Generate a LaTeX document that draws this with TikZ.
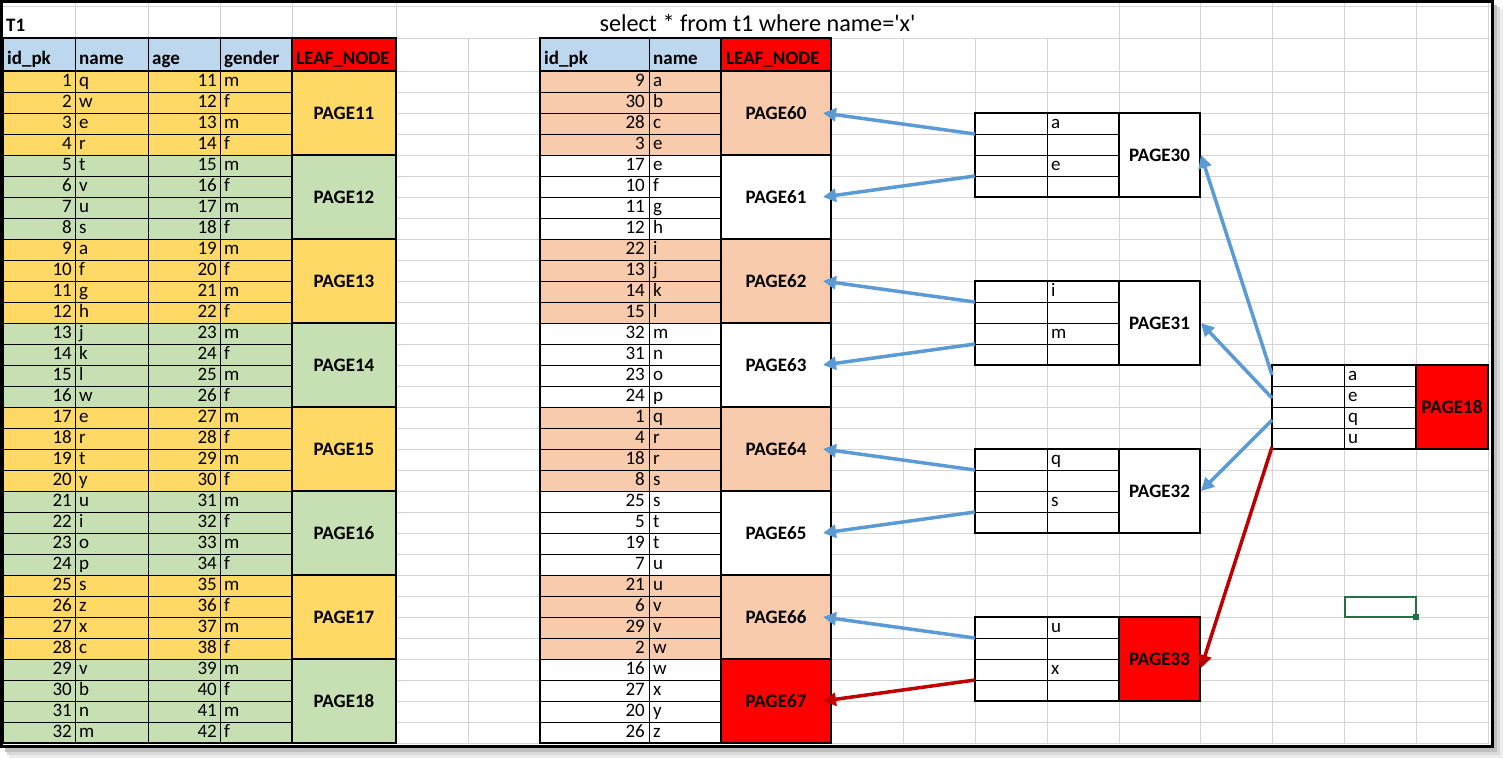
\documentclass[tikz,border=0pt]{standalone}
\usepackage{fontspec}
\setmainfont{Carlito}
\usetikzlibrary{arrows.meta,positioning,calc}
\definecolor{gridGray} {RGB}{212,212,212}
\definecolor{hdrBlue}  {RGB}{189,215,238}
\definecolor{rowYellow}{RGB}{255,217,102}
\definecolor{rowGreen} {RGB}{198,224,180}
\definecolor{rowPeach} {RGB}{248,203,173}
\definecolor{leafRed}  {RGB}{255,  0,  0}
\definecolor{arrBlue}  {RGB}{ 91,155,213}
\definecolor{arrRed}   {RGB}{192,  0,  0}
\definecolor{selGreen} {RGB}{ 33,115, 70}

\begin{document}
\begin{tikzpicture}[x=1pt,y=-1pt,
    font=\fontsize{19}{23}\selectfont,
    gridln/.style={gridGray,line width=0.8pt},
    cellln/.style={black,line width=1pt},
    boxln/.style={black,line width=2pt},
    numtxt/.style={anchor=base east,inner sep=0pt},
    keytxt/.style={anchor=base west,inner sep=0pt},
    hdrtxt/.style={anchor=base west,inner sep=0pt,
                   font=\fontsize{19}{23}\selectfont\bfseries},
    pagecell/.style={draw,line width=2pt,inner sep=0pt,minimum width=#1,
                     minimum height=84pt,font=\fontsize{19}{23}\selectfont\bfseries},
    bluearr/.style={-{Triangle[length=13pt,width=13pt]},arrBlue,line width=3.5pt},
    redarr/.style={-{Triangle[length=13pt,width=13pt]},arrRed,line width=3.5pt},
  ]
  \useasboundingbox (0,0) rectangle (1503,758);
  % window shadow
  \fill[white]   (0,0) rectangle (1503,758);
  \fill[gray!15] (9,9) rectangle (1503,758);
  \fill[gray!30] (7,7) rectangle (1500,755);
  \fill[gray!50] (5,5) rectangle (1497,752);
  \fill[white]   (0,0) rectangle (1494,748);

  % sheet grid
  \foreach \gx in {75,148,220,292,396,1119,1200,1272,1344,1416,1488}
    \draw[gridln] (\gx,3) -- (\gx,744);
  \foreach \gx in {468,540,649,721,831,903,975,1047}
    \draw[gridln] (\gx,38) -- (\gx,744);
  \draw[gridln] (3,6) -- (1490,6) (3,38) -- (1490,38);
  \foreach \k in {0,...,32}
    \draw[gridln] (3,71+21*\k) -- (1490,71+21*\k);

  % title row
  \node[hdrtxt] (t1) at (6,31) {T1};
  \node[anchor=base,inner sep=0pt,font=\fontsize{24.2}{28}\selectfont] (query)
    at (757.5,31) {select * from t1 where name=\textquotesingle x\textquotesingle};

  % T1 table
  \fill[hdrBlue] (3,38) rectangle (292,71);
  \fill[leafRed] (292,38) rectangle (396,71);
  \node[hdrtxt] (h11) at (7,64) {id\_pk};
  \node[hdrtxt] (h12) at (79,64) {name};
  \node[hdrtxt] (h13) at (152,64) {age};
  \node[hdrtxt] (h14) at (224,64) {gender};
  \node[hdrtxt] (h15) at (296,64) {LEAF\_NODE};
  \foreach \id/\nm [count=\k from 0] in {1/q,2/w,3/e,4/r,5/t,6/v,7/u,8/s,
      9/a,10/f,11/g,12/h,13/j,14/k,15/l,16/w,17/e,18/r,19/t,20/y,
      21/u,22/i,23/o,24/p,25/s,26/z,27/x,28/c,29/v,30/b,31/n,32/m}{
    \pgfmathtruncatemacro\rtop{71+21*\k}
    \pgfmathtruncatemacro\grp{mod(int(\k/4),2)}
    \pgfmathtruncatemacro\age{\id+10}
    \pgfmathtruncatemacro\rodd{mod(\k,2)}
    \ifnum\grp=0 \def\rowcol{rowYellow}\else\def\rowcol{rowGreen}\fi
    \ifnum\rodd=0 \def\gen{m}\else\def\gen{f}\fi
    \fill[\rowcol] (3,\rtop) rectangle (292,\rtop+21);
    \node[numtxt] (a\k) at (72,\rtop+15.5) {\id};
    \node[keytxt] (b\k) at (79,\rtop+15.5) {\nm};
    \node[numtxt] (c\k) at (217,\rtop+15.5) {\age};
    \node[keytxt] (d\k) at (224,\rtop+15.5) {\gen};
    \draw[cellln] (3,\rtop) -- (292,\rtop);
  }
  \draw[cellln] (75,38) -- (75,743) (148,38) -- (148,743) (220,38) -- (220,743);

  % index table
  \fill[hdrBlue] (540,38) rectangle (721,71);
  \fill[leafRed] (721,38) rectangle (831,71);
  \node[hdrtxt] (h21) at (544,64) {id\_pk};
  \node[hdrtxt] (h22) at (653,64) {name};
  \node[hdrtxt] (h23) at (726,64) {LEAF\_NODE};
  \foreach \id/\nm [count=\k from 0] in {9/a,30/b,28/c,3/e,17/e,10/f,11/g,12/h,
      22/i,13/j,14/k,15/l,32/m,31/n,23/o,24/p,1/q,4/r,18/r,8/s,
      25/s,5/t,19/t,7/u,21/u,6/v,29/v,2/w,16/w,27/x,20/y,26/z}{
    \pgfmathtruncatemacro\rtop{71+21*\k}
    \pgfmathtruncatemacro\grp{mod(int(\k/4),2)}
    \ifnum\grp=0 \def\rowcol{rowPeach}\else\def\rowcol{white}\fi
    \fill[\rowcol] (540,\rtop) rectangle (721,\rtop+21);
    \node[numtxt] (e\k) at (645,\rtop+15.5) {\id};
    \node[keytxt] (f\k) at (653,\rtop+15.5) {\nm};
    \draw[cellln] (540,\rtop) -- (721,\rtop);
  }
  \draw[cellln] (649,38) -- (649,743);

  % leaf pages
  \foreach \g in {0,...,7}{
    \pgfmathtruncatemacro\pa{11+\g}
    \pgfmathtruncatemacro\pb{60+\g}
    \pgfmathtruncatemacro\rodd{mod(\g,2)}
    \ifnum\rodd=0 \def\ca{rowYellow}\def\cb{rowPeach}\else\def\ca{rowGreen}\def\cb{white}\fi
    \ifnum\g=7 \def\cb{leafRed}\fi
    \node[pagecell=104pt,fill=\ca] (lf\pa) at (344,113+84*\g) {PAGE\pa};
    \node[pagecell=110pt,fill=\cb] (ix\pb) at (776,113+84*\g) {PAGE\pb};
  }
  \draw[boxln] (3,38) rectangle (396,743) (3,71) -- (396,71);
  \draw[boxln] (540,38) rectangle (831,743) (540,71) -- (831,71);
  \draw[boxln] (292,38) -- (292,71) (721,38) -- (721,71);

  % branch pages
  \foreach \pg/\t/\ka/\kb/\cf in {30/113/a/e/white,31/281/i/m/white,
      32/449/q/s/white,33/617/u/x/leafRed}{
    \draw[cellln] (975,\t+21) -- (1119,\t+21) (975,\t+42) -- (1119,\t+42)
      (975,\t+63) -- (1119,\t+63) (1047,\t) -- (1047,\t+84);
    \node[keytxt] (k\pg-a) at (1051,\t+15.5) {\ka};
    \node[keytxt] (k\pg-b) at (1051,\t+57.5) {\kb};
    \node[pagecell=81pt,fill=\cf] (br\pg) at (1159.5,\t+42) {PAGE\pg};
    \draw[boxln] (975,\t) rectangle (1200,\t+84);
    \coordinate (br\pg-a) at (975,\t+21);
    \coordinate (br\pg-b) at (975,\t+63);
  }

  % root page
  \draw[cellln] (1272,386) -- (1416,386) (1272,407) -- (1416,407)
    (1272,428) -- (1416,428) (1344,365) -- (1344,449);
  \node[keytxt] (rk1) at (1348,380.5) {a};
  \node[keytxt] (rk2) at (1348,401.5) {e};
  \node[keytxt] (rk3) at (1348,422.5) {q};
  \node[keytxt] (rk4) at (1348,443.5) {u};
  \node[pagecell=72pt,fill=leafRed] (root) at (1452,407) {PAGE18};
  \draw[boxln] (1272,365) rectangle (1488,449);
  \coordinate (root-1) at (1272,375);
  \coordinate (root-2) at (1272,398);
  \coordinate (root-3) at (1272,420);
  \coordinate (root-4) at (1272,447);

  % pointers
  \draw[bluearr] (root-1) -- (br30.east);
  \draw[bluearr] (root-2) -- (br31.east);
  \draw[bluearr] (root-3) -- (br32.east);
  \draw[redarr]  (root-4) -- ([yshift=-9pt]br33.east);
  \draw[bluearr] (br30-a) -- ([xshift=-9pt]ix60.east);
  \draw[bluearr] (br30-b) -- ([xshift=-9pt]ix61.east);
  \draw[bluearr] (br31-a) -- ([xshift=-9pt]ix62.east);
  \draw[bluearr] (br31-b) -- ([xshift=-9pt]ix63.east);
  \draw[bluearr] (br32-a) -- ([xshift=-9pt]ix64.east);
  \draw[bluearr] (br32-b) -- ([xshift=-9pt]ix65.east);
  \draw[bluearr] (br33-a) -- ([xshift=-9pt]ix66.east);
  \draw[redarr]  (br33-b) -- ([xshift=-9pt]ix67.east);

  % selected cell
  \draw[selGreen,line width=2pt] (1345,597) rectangle (1416,617);
  \fill[selGreen] (1413,614) rectangle (1419,620);

  % window border
  \draw[line width=3pt] (1.5,1.5) rectangle (1492.5,746.5);
\end{tikzpicture}
\end{document}
